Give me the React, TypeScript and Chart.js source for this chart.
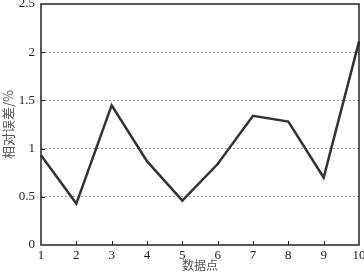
import React, { useEffect, useRef } from "react";
import { Chart, registerables } from "chart.js";
Chart.register(...registerables);

const categories = ["1", "2", "3", "4", "5", "6", "7", "8", "9", "10"];
const errorValues = [0.93, 0.43, 1.45, 0.87, 0.46, 0.84, 1.34, 1.28, 0.7, 2.11];
const yTicks = [0, 0.5, 1, 1.5, 2, 2.5];
const xTitle = "数据点";
const yTitle = "相对误差/%";

const framePlugin = {
  id: "frame",
  afterDatasetsDraw(chart: any) {
    const { ctx, chartArea: a, scales } = chart;
    ctx.save();
    ctx.strokeStyle = "#222";
    ctx.lineWidth = 1.5;
    ctx.strokeRect(a.left, a.top, a.right - a.left, a.bottom - a.top);
    ctx.lineWidth = 1;
    const xs = scales.x;
    for (let i = 1; i < categories.length - 1; i++) {
      const px = Math.round(xs.getPixelForValue(i)) + 0.5;
      ctx.beginPath();
      ctx.moveTo(px, a.bottom);
      ctx.lineTo(px, a.bottom - 4);
      ctx.stroke();
    }
    const ys = scales.y;
    for (let i = 1; i < yTicks.length - 1; i++) {
      const py = Math.round(ys.getPixelForValue(yTicks[i])) + 0.5;
      ctx.beginPath();
      ctx.moveTo(a.left, py);
      ctx.lineTo(a.left + 4, py);
      ctx.stroke();
    }
    ctx.restore();
  },
};

export default function App() {
  const ref = useRef<HTMLCanvasElement>(null);
  useEffect(() => {
    if (!ref.current) return;
    const chart = new Chart(ref.current, {
      type: "line",
      data: {
        labels: categories,
        datasets: [
          {
            data: errorValues,
            borderColor: "#333",
            borderWidth: 2.5,
            pointRadius: 0,
            tension: 0,
            fill: false,
          },
        ],
      },
      options: {
        animation: false,
        responsive: false,
        maintainAspectRatio: false,
        layout: { padding: { left: 0, top: 4, right: 5, bottom: 0 } },
        plugins: { legend: { display: false }, tooltip: { enabled: false } },
        scales: {
          x: {
            offset: false,
            grid: { display: false, drawTicks: false },
            border: { display: false },
            ticks: {
              color: "#222",
              font: { family: "Liberation Serif", size: 13 },
              padding: 3,
              maxRotation: 0,
              autoSkip: false,
            },
            title: {
              display: true,
              text: xTitle,
              color: "#555",
              font: { family: "Noto Sans CJK SC", size: 12 },
              padding: { top: 0, bottom: 7 },
            },
            afterFit(scale: any) {
              scale.height = 35;
              scale.paddingLeft = 0;
              scale.paddingRight = 0;
            },
          },
          y: {
            min: 0,
            max: 2.5,
            afterBuildTicks(scale: any) {
              scale.ticks = yTicks.map((v) => ({ value: v }));
            },
            grid: {
              color: (c: any) =>
                c.tick && (c.tick.value === 0 || c.tick.value === 2.5) ? "rgba(0,0,0,0)" : "#888",
              lineWidth: 0.8,
              drawTicks: false,
            },
            border: { display: false, dash: [2, 2] },
            ticks: {
              color: "#222",
              font: { family: "Liberation Serif", size: 13 },
              padding: 6,
              callback: (v: any) => String(v),
            },
            title: {
              display: true,
              text: yTitle,
              color: "#555",
              font: { family: "Noto Sans CJK SC", size: 13 },
              padding: { top: 0, bottom: 0 },
            },
            afterFit(scale: any) {
              scale.width = 41;
              scale.paddingTop = 0;
              scale.paddingBottom = 0;
            },
          },
        },
      },
      plugins: [framePlugin],
    } as any);
    return () => chart.destroy();
  }, []);
  return (
    <div style={{ position: "fixed", left: 0, top: 0, width: 364, height: 280, background: "#fff" }}>
      <canvas ref={ref} width={364} height={280} style={{ display: "block" }} />
    </div>
  );
}
